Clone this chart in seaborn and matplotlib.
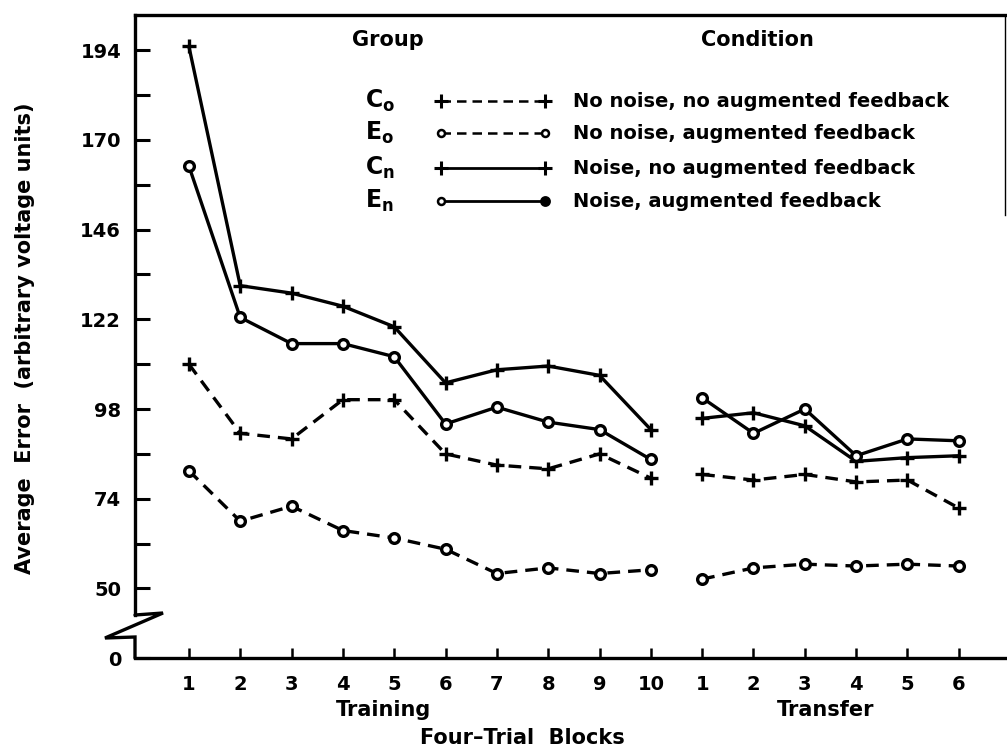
import matplotlib.pyplot as plt
import pandas as pd
import seaborn as sns

# block numbers as printed under the x axis
training_blocks = [1, 2, 3, 4, 5, 6, 7, 8, 9, 10]
transfer_blocks = [1, 2, 3, 4, 5, 6]

# average error (arbitrary voltage units)
co_training = [110, 91.5, 90, 100.5, 100.5, 86, 83, 82, 86, 79.5]
co_transfer = [80.5, 79, 80.5, 78.5, 79, 71.5]
eo_training = [81.5, 68, 72, 65.5, 63.5, 60.5, 54, 55.5, 54, 55]
eo_transfer = [52.5, 55.5, 56.5, 56, 56.5, 56]
cn_training = [195, 131, 129, 125.5, 120, 105, 108.5, 109.5, 107, 92.5]
cn_transfer = [95.5, 97, 93.5, 84, 85, 85.5]
en_training = [163, 122.5, 115.5, 115.5, 112, 94, 98.5, 94.5, 92.5, 84.5]
en_transfer = [101, 91.5, 98, 85.5, 90, 89.5]

groups = ["Co", "Eo", "Cn", "En"]
group_labels = [r"$\mathbf{C_o}$", r"$\mathbf{E_o}$", r"$\mathbf{C_n}$", r"$\mathbf{E_n}$"]
conditions = ["No noise, no augmented feedback", "No noise, augmented feedback",
              "Noise, no augmented feedback", "Noise, augmented feedback"]
y_ticks = [50, 74, 98, 122, 146, 170, 194]
y_minor = [62, 86, 110, 134, 158, 182]
y_bottom, y_top = 31.4, 203.4

series = {"Co": (co_training, co_transfer), "Eo": (eo_training, eo_transfer),
          "Cn": (cn_training, cn_transfer), "En": (en_training, en_transfer)}

rows = []
for g in groups:
    tr, tf = series[g]
    for b, v in zip(training_blocks, tr):
        rows.append((g, "Training", b, b, v))
    for b, v in zip(transfer_blocks, tf):
        rows.append((g, "Transfer", b, len(training_blocks) + b, v))
df = pd.DataFrame(rows, columns=["group", "phase", "block", "pos", "error"])

sns.set_style("white", {"text.color": "black", "axes.labelcolor": "black",
                        "xtick.color": "black", "ytick.color": "black"})
plt.rcParams["font.family"] = ["DejaVu Sans"]
plt.rcParams["mathtext.fontset"] = "dejavusans"

DASH = (0, (3.8, 2.4))
styles = {"Co": (DASH, "+"), "Eo": (DASH, "o"), "Cn": ("-", "+"), "En": ("-", "o")}

fig = plt.figure(figsize=(10.07, 7.54), dpi=100)
ax = fig.add_axes([135 / 1007, 1 - 658 / 754, 870 / 1007, 643 / 754])


def ax_x(px):
    return (px - 135) / 870


def ax_y(py):
    return (658 - py) / 643


for g in groups:
    ls, mk = styles[g]
    ms = 10.5 if mk == "+" else 7
    sns.lineplot(data=df[df["group"] == g], x="pos", y="error", units="phase",
                 estimator=None, color="black", linestyle=ls, linewidth=2.4,
                 marker=mk, markersize=ms, markeredgewidth=2.4,
                 markerfacecolor="white", markeredgecolor="black",
                 legend=False, ax=ax)

ax.set_xlim(-0.05, 16.9)
ax.set_ylim(y_bottom, y_top)

# ticks
ax.set_xticks(df["pos"].unique())
ax.set_xticklabels([str(b) for b in training_blocks] + [str(b) for b in transfer_blocks])
ax.set_yticks([y_bottom] + y_ticks)
ax.set_yticklabels(["0"] + [str(t) for t in y_ticks])
ax.set_yticks(y_minor, minor=True)
ax.yaxis.get_major_ticks()[0].tick1line.set_visible(False)
ax.tick_params(axis="y", which="both", direction="in", length=11, width=2.2, pad=10,
               labelsize=14, left=True, colors="black")
ax.tick_params(axis="x", direction="in", length=7, width=1.8, pad=12, labelsize=14,
               bottom=True, colors="black")
for lab in ax.get_xticklabels() + ax.get_yticklabels():
    lab.set_fontweight("bold")

# spines with broken y axis
for s in ["left", "bottom", "top"]:
    ax.spines[s].set_linewidth(2.4)
    ax.spines[s].set_color("black")
ax.spines["right"].set_linewidth(1.0)
ax.spines["right"].set_color("black")
ax.spines["right"].set_bounds(150, y_top)
ax.spines["left"].set_bounds(42.9, y_top)
ax.plot([ax_x(135), ax_x(163), ax_x(105), ax_x(135), ax_x(135)],
        [ax_y(615), ax_y(613), ax_y(638), ax_y(637), ax_y(658)],
        transform=ax.transAxes, color="black", lw=2.4, clip_on=False,
        solid_joinstyle="miter")

ax.set_xlabel("Four\u2013Trial  Blocks", fontsize=15, fontweight="bold", va="center")
ax.xaxis.set_label_coords(ax_x(522), ax_y(738))
ax.set_ylabel("Average  Error  (arbitrary voltage units)", fontsize=15,
              fontweight="bold", va="center")
ax.yaxis.set_label_coords(ax_x(25), ax_y(338))
ax.text(ax_x(383), ax_y(710), "Training", transform=ax.transAxes, ha="center",
        va="center", fontsize=15, fontweight="bold")
ax.text(ax_x(826), ax_y(710), "Transfer", transform=ax.transAxes, ha="center",
        va="center", fontsize=15, fontweight="bold")

# hand-drawn key
ax.text(ax_x(388), ax_y(40), "Group", transform=ax.transAxes, ha="center", va="center",
        fontsize=15, fontweight="bold")
ax.text(ax_x(757), ax_y(40), "Condition", transform=ax.transAxes, ha="center", va="center",
        fontsize=15, fontweight="bold")
row_y = [101, 133, 168, 201]
for g, lab, cond, py in zip(groups, group_labels, conditions, row_y):
    ls, mk = styles[g]
    y = ax_y(py)
    ax.text(ax_x(365), y, lab, transform=ax.transAxes, ha="left", va="center",
            fontsize=17)
    ax.plot([ax_x(441), ax_x(545)], [y, y], transform=ax.transAxes, color="black",
            linestyle=ls, linewidth=2.0 if ls == "-" else 1.8, clip_on=False)
    if mk == "+":
        ax.plot([ax_x(441), ax_x(545)], [y, y], transform=ax.transAxes, ls="none",
                marker="+", markersize=10, markeredgewidth=2.2, color="black", clip_on=False)
    else:
        ax.plot([ax_x(441)], [y], transform=ax.transAxes, ls="none", marker="o",
                markersize=5, markeredgewidth=1.8, markerfacecolor="white",
                markeredgecolor="black", clip_on=False)
        ax.plot([ax_x(545)], [y], transform=ax.transAxes, ls="none", marker="o",
                markersize=6 if g == "En" else 5, markeredgewidth=1.8,
                markerfacecolor="black" if g == "En" else "white",
                markeredgecolor="black", clip_on=False)
    ax.text(ax_x(573), y, cond, transform=ax.transAxes, ha="left", va="center",
            fontsize=14, fontweight="bold")

fig.savefig("out.png", dpi=100, facecolor="white")
